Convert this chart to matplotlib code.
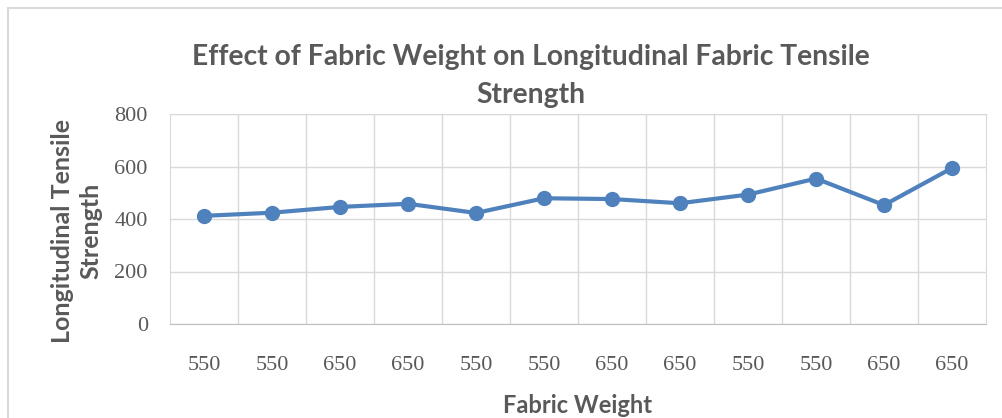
import matplotlib.pyplot as plt
from matplotlib.patches import Rectangle

# Fabric weight per sample and the measured longitudinal tensile strength
fabric_weight = ['550', '550', '650', '650', '550', '550',
                 '650', '650', '550', '550', '650', '650']
tensile_strength = [412, 424, 446, 458, 423, 479,
                    476, 460, 493, 554, 453, 594]
y_ticks = [0, 200, 400, 600, 800]

text_gray = '#595959'
grid_gray = '#d9d9d9'
line_blue = '#4f81bd'

fig = plt.figure(figsize=(10.03, 4.18), dpi=100)
ax = fig.add_axes([170 / 1003, 1 - 324 / 418, 816 / 1003, 210 / 418])

x = list(range(len(fabric_weight)))
ax.plot(x, tensile_strength, color=line_blue, linewidth=3,
        marker='o', markersize=10, solid_capstyle='round')

ax.set_xlim(-0.5, len(fabric_weight) - 0.5)
ax.set_ylim(0, 800)
ax.set_yticks(y_ticks)
ax.set_yticklabels([str(v) for v in y_ticks], family='Liberation Serif',
                   fontsize=16, color=text_gray)
ax.set_xticks(x)
ax.set_xticklabels(fabric_weight, family='Liberation Serif',
                   fontsize=16, color=text_gray)
ax.tick_params(axis='both', length=0)
ax.tick_params(axis='y', pad=16)
ax.tick_params(axis='x', pad=23)

# grid lines sit on category boundaries
ax.set_xticks([i + 0.5 for i in x[:-1]], minor=True)
ax.grid(True, which='minor', axis='x', color=grid_gray, linewidth=1)
ax.grid(True, which='major', axis='y', color=grid_gray, linewidth=1)
ax.set_axisbelow(True)
for side in ['top', 'right', 'left']:
    ax.spines[side].set_color(grid_gray)
ax.spines['bottom'].set_color('#bfbfbf')
ax.tick_params(axis='x', which='minor', length=0)

fig.text(531 / 1003, 1 - 76 / 418,
         'Effect of Fabric Weight on Longitudinal Fabric Tensile\nStrength',
         family='Lato', fontweight='bold', fontsize=20.3, color=text_gray,
         linespacing=1.6, ha='center', va='center')
ax.set_xlabel('Fabric Weight', family='Lato', fontweight='bold',
              fontsize=17, color=text_gray, labelpad=14)
ax.set_ylabel('Longitudinal Tensile\nStrength', family='Lato',
              fontweight='bold', fontsize=18, color=text_gray,
              linespacing=1.3)
ax.yaxis.set_label_coords(-0.083, 0.443)

# light chart-area border
fig.patches.append(Rectangle((8 / 1003, -0.05), 1.2, 1 - 8 / 418 + 0.05,
                             transform=fig.transFigure, fill=False,
                             edgecolor=grid_gray, linewidth=1.5))

fig.savefig('out.png', dpi=100)
